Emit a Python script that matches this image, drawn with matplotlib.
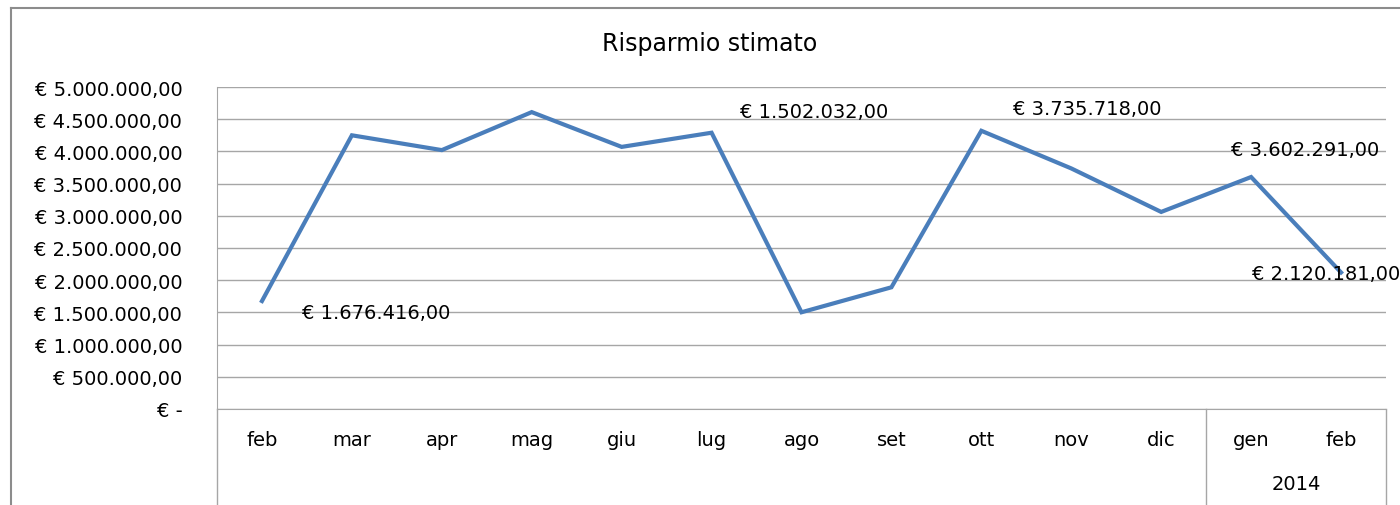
import matplotlib
matplotlib.use('Agg')
import matplotlib.pyplot as plt
from matplotlib.lines import Line2D

months = ['feb', 'mar', 'apr', 'mag', 'giu', 'lug', 'ago', 'set', 'ott', 'nov', 'dic', 'gen', 'feb']
savings = [1676416, 4250000, 4020000, 4610000, 4070000, 4290000, 1502032,
           1890000, 4320000, 3735718, 3060000, 3602291, 2120181]
year_label = '2014'

# which points carry a data label, and where Excel left them (pixel offsets)
labelled = [0, 6, 9, 11, 12]
label_offsets = {0: (114, -11), 6: (13, 201), 9: (16, 60), 11: (54, 28), 12: (-15, -1)}


def euro(v):
    if v == 0:
        return '€ -'
    s = '{:,.2f}'.format(v)
    s = s.replace(',', 'X').replace('.', ',').replace('X', '.')
    return '€ ' + s


W, H = 1400, 506
fig = plt.figure(figsize=(W / 100, H / 100), dpi=100)
ax = fig.add_axes([217 / W, 1 - 410 / H, (1386 - 217) / W, (410 - 88) / H])

x = list(range(len(months)))
ax.plot(x, savings, color='#4a7ebb', lw=3, solid_joinstyle='miter')

ax.set_xlim(-0.5, len(months) - 0.5)
ax.set_ylim(0, 5000000)
yt = [i * 500000 for i in range(11)]
ax.set_yticks(yt)
ax.set_yticklabels([euro(v) for v in yt])
ax.set_xticks(x)
ax.set_xticklabels(months)
ax.tick_params(axis='y', length=0, pad=25, labelsize=14)
ax.tick_params(axis='x', length=0, pad=15, labelsize=14)
ax.grid(axis='y', color='#a6a6a6', lw=1)
ax.set_axisbelow(True)
for sp in ['top', 'right']:
    ax.spines[sp].set_visible(False)
ax.spines['left'].set_color('#a6a6a6')
ax.spines['bottom'].set_color('#a6a6a6')

# category axis boxes below the plot
tr = ax.get_xaxis_transform()
bottom = -(498 - 410) / (410 - 88)
for xv in [-0.5, 10.5, len(months) - 0.5]:
    ax.add_line(Line2D([xv, xv], [0, bottom - 0.05], transform=tr, color='#a6a6a6', lw=1, clip_on=False))
ax.text(11.5, -(485 - 410) / (410 - 88), year_label, transform=tr, ha='center', va='center', fontsize=14)

for i in labelled:
    dx, dy = label_offsets[i]
    ax.annotate(euro(savings[i]), xy=(i, savings[i]), xytext=(dx, dy), textcoords='offset pixels',
                ha='center', va='center', fontsize=14, annotation_clip=False)

fig.text(710 / W, 1 - 44 / H, 'Risparmio stimato', ha='center', va='center', fontsize=17)

# chart area border
fig.add_artist(Line2D([10.5 / W, 1], [1 - 8.5 / H, 1 - 8.5 / H], transform=fig.transFigure, color='#8c8c8c', lw=1.5))
fig.add_artist(Line2D([10.5 / W, 10.5 / W], [1 - 8.5 / H, 0], transform=fig.transFigure, color='#8c8c8c', lw=1.5))

fig.savefig('out.png', dpi=100)
